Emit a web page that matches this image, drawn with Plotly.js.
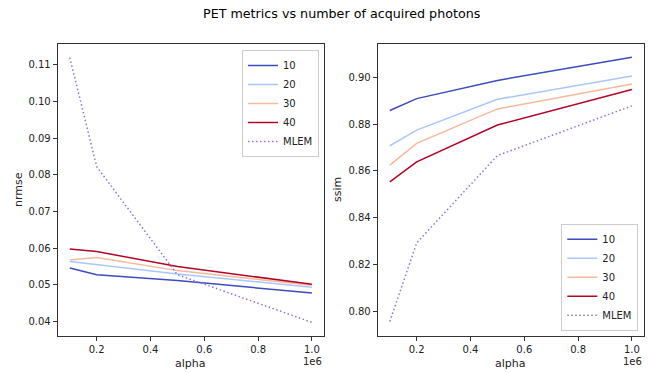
<!DOCTYPE html>
<html>
<head>
<meta charset="utf-8">
<script src="https://cdn.plot.ly/plotly-3.0.1.min.js"></script>
<style>html,body{margin:0;padding:0;background:#fff;}#chart{width:651px;height:373px;}</style>
</head>
<body>
<div id="chart"></div>
<script>
// Data
const alpha = [100000, 200000, 500000, 1000000];
const seriesNames = ["10", "20", "30", "40", "MLEM"];
const nrmse10 = [0.0546, 0.0528, 0.0512, 0.0478];
const nrmse20 = [0.0564, 0.0555, 0.0530, 0.0494];
const nrmse30 = [0.0568, 0.0575, 0.0539, 0.0499];
const nrmse40 = [0.0598, 0.0591, 0.0550, 0.0502];
const nrmseMLEM = [0.1119, 0.0822, 0.0528, 0.0398];
const ssim10 = [0.8859, 0.8910, 0.8988, 0.9087];
const ssim20 = [0.8708, 0.8775, 0.8907, 0.9007];
const ssim30 = [0.8625, 0.8718, 0.8866, 0.8973];
const ssim40 = [0.8553, 0.8639, 0.8797, 0.8949];
const ssimMLEM = [0.7955, 0.8292, 0.8666, 0.8879];
const xTickVals = [200000, 400000, 600000, 800000, 1000000];
const xTickText = ["0.2", "0.4", "0.6", "0.8", "1.0"];
const nrmseTickVals = [0.04, 0.05, 0.06, 0.07, 0.08, 0.09, 0.10, 0.11];
const nrmseTickText = ["0.04", "0.05", "0.06", "0.07", "0.08", "0.09", "0.10", "0.11"];
const ssimTickVals = [0.80, 0.82, 0.84, 0.86, 0.88, 0.90];
const ssimTickText = ["0.80", "0.82", "0.84", "0.86", "0.88", "0.90"];

const colors = ["#3b4cc0", "#aac7fd", "#f7b89c", "#b40426", "#9370db"];
const nrmseData = [nrmse10, nrmse20, nrmse30, nrmse40, nrmseMLEM];
const ssimData = [ssim10, ssim20, ssim30, ssim40, ssimMLEM];

const traces = [];
seriesNames.forEach((name, i) => {
  const isML = name === "MLEM";
  const line = {color: colors[i], width: 1.5};
  if (isML) line.dash = "1.5px,2.5px";
  traces.push({x: alpha, y: nrmseData[i], name: name, mode: "lines", line: line,
    xaxis: "x", yaxis: "y", legend: "legend"});
});
seriesNames.forEach((name, i) => {
  const isML = name === "MLEM";
  const line = {color: colors[i], width: 1.5};
  if (isML) line.dash = "1.5px,2.5px";
  traces.push({x: alpha, y: ssimData[i], name: name, mode: "lines", line: line,
    xaxis: "x2", yaxis: "y2", legend: "legend2"});
});

const W = 651, H = 373;
const fontFam = "DejaVu Sans, sans-serif";
const tickFont = {family: fontFam, size: 10, color: "#222"};
const axCommon = {
  showgrid: false, zeroline: false, showline: true, mirror: true,
  linecolor: "#333", linewidth: 1, ticks: "outside", ticklen: 4, tickwidth: 1,
  tickcolor: "#333", tickfont: tickFont, automargin: false
};

const legendCommon = {
  font: {family: fontFam, size: 10, color: "#222"},
  bgcolor: "rgba(255,255,255,0.8)", bordercolor: "#cccccc", borderwidth: 1,
  itemwidth: 30, tracegroupgap: 0
};

const layout = {
  width: W, height: H,
  margin: {l: 0, r: 0, t: 0, b: 0},
  paper_bgcolor: "#fff", plot_bgcolor: "#fff",
  showlegend: true,
  xaxis: Object.assign({}, axCommon, {domain: [57.7 / W, 324 / W], range: [55000, 1045000],
    tickvals: xTickVals, ticktext: xTickText}),
  yaxis: Object.assign({}, axCommon, {domain: [1 - 336 / H, 1 - 44 / H], range: [0.0361, 0.1156],
    tickvals: nrmseTickVals, ticktext: nrmseTickText}),
  xaxis2: Object.assign({}, axCommon, {domain: [377.7 / W, 644 / W], range: [55000, 1045000],
    tickvals: xTickVals, ticktext: xTickText, anchor: "y2"}),
  yaxis2: Object.assign({}, axCommon, {domain: [1 - 336 / H, 1 - 44 / H], range: [0.7893, 0.9144],
    tickvals: ssimTickVals, ticktext: ssimTickText, anchor: "x2"}),
  legend: Object.assign({}, legendCommon, {x: 319 / W, y: 1 - 50 / H, xanchor: "right", yanchor: "top"}),
  legend2: Object.assign({}, legendCommon, {x: 638.3 / W, y: 1 - 330.7 / H, xanchor: "right", yanchor: "bottom"}),
  annotations: [
    {text: "PET metrics vs number of acquired photons", xref: "paper", yref: "paper",
      x: 341 / W, y: 1 - 13 / H, xanchor: "center", yanchor: "middle", showarrow: false,
      font: {family: fontFam, size: 12.7, color: "#000"}},
    {text: "nrmse", xref: "paper", yref: "paper", x: 18 / W, y: 1 - 190 / H, textangle: -90,
      xanchor: "center", yanchor: "middle", showarrow: false, font: {family: fontFam, size: 11, color: "#222"}},
    {text: "ssim", xref: "paper", yref: "paper", x: 337 / W, y: 1 - 190 / H, textangle: -90,
      xanchor: "center", yanchor: "middle", showarrow: false, font: {family: fontFam, size: 11, color: "#222"}},
    {text: "alpha", xref: "paper", yref: "paper", x: 190.8 / W, y: 1 - 363 / H,
      xanchor: "center", yanchor: "middle", showarrow: false, font: {family: fontFam, size: 11, color: "#222"}},
    {text: "alpha", xref: "paper", yref: "paper", x: 510.8 / W, y: 1 - 363 / H,
      xanchor: "center", yanchor: "middle", showarrow: false, font: {family: fontFam, size: 11, color: "#222"}},
    {text: "1e6", xref: "paper", yref: "paper", x: 324 / W, y: 1 - 361.5 / H,
      xanchor: "right", yanchor: "middle", showarrow: false, font: {family: fontFam, size: 10, color: "#222"}},
    {text: "1e6", xref: "paper", yref: "paper", x: 644 / W, y: 1 - 361.5 / H,
      xanchor: "right", yanchor: "middle", showarrow: false, font: {family: fontFam, size: 10, color: "#222"}}
  ]
};

Plotly.newPlot("chart", traces, layout, {displayModeBar: false, staticPlot: true});
</script>
</body>
</html>
